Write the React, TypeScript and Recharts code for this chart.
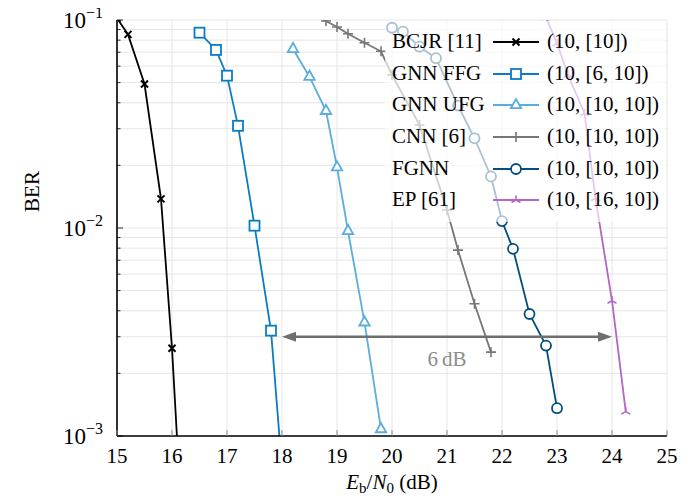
import React from 'react';
import { LineChart, Line, XAxis, YAxis, CartesianGrid, ReferenceLine } from 'recharts';

// axis ticks
const xTicks = [15, 16, 17, 18, 19, 20, 21, 22, 23, 24, 25];
const yTicks = [
  0.001, 0.002, 0.003, 0.004, 0.005, 0.006, 0.007, 0.008, 0.009,
  0.01, 0.02, 0.03, 0.04, 0.05, 0.06, 0.07, 0.08, 0.09, 0.1,
];
const yDecades = [0.001, 0.01, 0.1];

// BCJR [11]
const bcjrSnr = [15.0, 15.2, 15.5, 15.8, 16.0, 16.2];
const bcjrBer = [0.102, 0.0853, 0.0492, 0.0138, 0.00264, 0.0003];

// GNN FFG
const ffgSnr = [16.5, 16.8, 17.0, 17.2, 17.5, 17.8, 18.0];
const ffgBer = [0.0869, 0.0718, 0.054, 0.031, 0.01026, 0.00321, 0.0007];

// GNN UFG
const ufgSnr = [18.2, 18.5, 18.8, 19.0, 19.2, 19.5, 19.8];
const ufgBer = [0.0726, 0.0534, 0.0366, 0.0196, 0.00968, 0.00352, 0.00108];

// CNN [6]
const cnnSnr = [18.5, 18.8, 19.0, 19.2, 19.5, 19.8, 20.0, 20.5, 21.0, 21.2, 21.5, 21.8];
const cnnBer = [0.108, 0.0989, 0.0926, 0.0859, 0.0778, 0.0707, 0.0544, 0.0313, 0.0122, 0.00783, 0.00432, 0.00253];

// FGNN
const fgnnSnr = [20.0, 20.2, 20.5, 20.8, 21.2, 21.5, 21.8, 22.0, 22.2, 22.5, 22.8, 23.0];
const fgnnBer = [0.0918, 0.0879, 0.0744, 0.0655, 0.0388, 0.027, 0.0177, 0.0108, 0.00794, 0.00386, 0.00272, 0.00136];

// EP [61]
const epSnr = [22.8, 23.0, 23.2, 23.5, 23.7, 24.0, 24.25];
const epBer = [0.103, 0.0772, 0.0544, 0.0356, 0.0139, 0.00447, 0.00131];

// 6 dB gap annotation
const gapFrom = 18;
const gapTo = 24;
const gapBer = 0.003;

const FONT = 'Liberation Serif, Times New Roman, serif';

const toRows = (snr: number[], ber: number[]) => snr.map((s, i) => ({ snr: s, ber: ber[i] }));

type Shape = 'cross' | 'square' | 'triangle' | 'plus' | 'circle' | 'tri';

const series: { name: string; params: string; color: string; shape: Shape; data: any[] }[] = [
  { name: 'BCJR [11]', params: '(10, [10])', color: '#000000', shape: 'cross', data: toRows(bcjrSnr, bcjrBer) },
  { name: 'GNN FFG', params: '(10, [6, 10])', color: '#0a7cc4', shape: 'square', data: toRows(ffgSnr, ffgBer) },
  { name: 'GNN UFG', params: '(10, [10, 10])', color: '#5aaddd', shape: 'triangle', data: toRows(ufgSnr, ufgBer) },
  { name: 'CNN [6]', params: '(10, [10, 10])', color: '#777777', shape: 'plus', data: toRows(cnnSnr, cnnBer) },
  { name: 'FGNN', params: '(10, [10, 10])', color: '#054d7a', shape: 'circle', data: toRows(fgnnSnr, fgnnBer) },
  { name: 'EP [61]', params: '(10, [16, 10])', color: '#b267c4', shape: 'tri', data: toRows(epSnr, epBer) },
];

const Marker = ({ shape, cx, cy, color }: { shape: Shape; cx: number; cy: number; color: string }) => {
  if (cx == null || cy == null || isNaN(cy)) return <g />;
  switch (shape) {
    case 'cross':
      return (
        <path
          d={`M${cx - 3.5},${cy - 3.5}L${cx + 3.5},${cy + 3.5}M${cx - 3.5},${cy + 3.5}L${cx + 3.5},${cy - 3.5}`}
          stroke={color}
          strokeWidth={2}
        />
      );
    case 'square':
      return <rect x={cx - 5} y={cy - 5} width={10} height={10} fill="#fff" stroke={color} strokeWidth={1.8} />;
    case 'triangle':
      return (
        <polygon
          points={`${cx},${cy - 6} ${cx - 5.2},${cy + 3.2} ${cx + 5.2},${cy + 3.2}`}
          fill="#fff"
          stroke={color}
          strokeWidth={1.8}
        />
      );
    case 'plus':
      return (
        <path d={`M${cx - 5},${cy}L${cx + 5},${cy}M${cx},${cy - 5}L${cx},${cy + 5}`} stroke={color} strokeWidth={1.6} />
      );
    case 'circle':
      return <circle cx={cx} cy={cy} r={5} fill="#fff" stroke={color} strokeWidth={1.8} />;
    case 'tri':
      return (
        <path
          d={`M${cx},${cy}L${cx},${cy - 4.5}M${cx},${cy}L${cx - 4.5},${cy + 2.5}M${cx},${cy}L${cx + 4.5},${cy + 2.5}`}
          stroke={color}
          strokeWidth={1.6}
        />
      );
  }
  return <g />;
};

const LeftTick = (props: any) => {
  const { x, y, payload } = props;
  const v = payload.value;
  const major = yDecades.some((d) => Math.abs(d - v) < 1e-9);
  const exp = Math.round(Math.log10(v));
  return (
    <g>
      <line x1={x} x2={x + (major ? 6 : 3.5)} y1={y} y2={y} stroke="#000" strokeWidth={0.8} />
      {major && (
        <text x={x - 14} y={y + 8} textAnchor="end" fontFamily={FONT} fontSize={23} fill="#000">
          10
          <tspan dy={-10} fontSize={16}>
            {'\u2212' + Math.abs(exp)}
          </tspan>
        </text>
      )}
    </g>
  );
};

const RightTick = (props: any) => {
  const { x, y, payload } = props;
  const major = yDecades.some((d) => Math.abs(d - payload.value) < 1e-9);
  return <line x1={x} x2={x - (major ? 6 : 3.5)} y1={y} y2={y} stroke="#000" strokeWidth={0.8} />;
};

const BottomTick = (props: any) => {
  const { x, y, payload } = props;
  return (
    <g>
      <line x1={x} x2={x} y1={y} y2={y - 6} stroke="#888" strokeWidth={1} />
      <text x={x} y={y + 27} textAnchor="middle" fontFamily={FONT} fontSize={21} fill="#000">
        {payload.value}
      </text>
    </g>
  );
};

const TopTick = (props: any) => {
  const { x, y } = props;
  return <line x1={x} x2={x} y1={y} y2={y + 6} stroke="#888" strokeWidth={1} />;
};

const GapArrow = (props: any) => {
  const { x1, y1, x2 } = props;
  const c = '#6e6e6e';
  return (
    <g>
      <line x1={x1 + 10} x2={x2 - 10} y1={y1} y2={y1} stroke={c} strokeWidth={2.4} />
      <polygon points={`${x1},${y1} ${x1 + 14},${y1 - 5} ${x1 + 14},${y1 + 5}`} fill={c} />
      <polygon points={`${x2},${y1} ${x2 - 14},${y1 - 5} ${x2 - 14},${y1 + 5}`} fill={c} />
      <text x={(x1 + x2) / 2} y={y1 + 29} textAnchor="middle" fontFamily={FONT} fontSize={21} fill="#8c8c8c">
        6{'\u2009'}dB
      </text>
    </g>
  );
};

const LegendBox = () => (
  <div
    style={{
      position: 'absolute',
      left: 385,
      top: 21,
      width: 281,
      height: 201,
      background: 'rgba(255,255,255,0.66)',
      fontFamily: FONT,
      fontSize: 21,
      color: '#000',
      paddingTop: 5,
      boxSizing: 'border-box',
    }}
  >
    {series.map((s) => (
      <div key={s.name} style={{ position: 'relative', height: 31.7 }}>
        <span style={{ position: 'absolute', left: 7, top: 3, whiteSpace: 'nowrap' }}>{s.name}</span>
        <svg style={{ position: 'absolute', left: 108, top: 6 }} width={46} height={20}>
          <line x1={0} x2={46} y1={10} y2={10} stroke={s.color} strokeWidth={1.8} />
          <Marker shape={s.shape} cx={23} cy={10} color={s.color} />
        </svg>
        <span style={{ position: 'absolute', left: 162, top: 3, whiteSpace: 'nowrap' }}>{s.params}</span>
      </div>
    ))}
  </div>
);

const App: React.FC = () => {
  return (
    <div style={{ position: 'relative', width: 694, height: 504, margin: -8, background: '#fff', overflow: 'hidden' }}>
      <LineChart width={694} height={504} margin={{ top: 20, right: 27, left: 0, bottom: 38 }}>
        <CartesianGrid stroke="#e6e6e6" strokeWidth={1} />
        <XAxis
          type="number"
          dataKey="snr"
          domain={[15, 25]}
          ticks={xTicks}
          interval={0}
          allowDataOverflow
          height={30}
          axisLine={{ stroke: '#000', strokeWidth: 1.6 }}
          tickLine={false}
          tickSize={0}
          tickMargin={0}
          tick={<BottomTick />}
        />
        <XAxis
          xAxisId="top"
          orientation="top"
          type="number"
          dataKey="snr"
          domain={[15, 25]}
          ticks={xTicks}
          interval={0}
          allowDataOverflow
          height={0}
          axisLine={{ stroke: '#000', strokeWidth: 1.6 }}
          tickLine={false}
          tickSize={0}
          tickMargin={0}
          tick={<TopTick />}
        />
        <YAxis
          scale="log"
          type="number"
          dataKey="ber"
          domain={[0.001, 0.1]}
          ticks={yTicks}
          interval={0}
          allowDataOverflow
          width={117}
          axisLine={{ stroke: '#000', strokeWidth: 1.6 }}
          tickLine={false}
          tickSize={0}
          tickMargin={0}
          tick={<LeftTick />}
          label={
            <text x={28} y={222} transform="rotate(-90 28 222)" textAnchor="middle" fontFamily={FONT} fontSize={21} fill="#000" dominantBaseline="middle">
              BER
            </text>
          }
        />
        <YAxis
          yAxisId="right"
          orientation="right"
          scale="log"
          type="number"
          domain={[0.001, 0.1]}
          ticks={yTicks}
          interval={0}
          allowDataOverflow
          width={0}
          axisLine={{ stroke: '#000', strokeWidth: 1.6 }}
          tickLine={false}
          tickSize={0}
          tickMargin={0}
          tick={<RightTick />}
        />
        {series.map((s) => (
          <Line
            key={s.name}
            data={s.data}
            dataKey="ber"
            type="linear"
            stroke={s.color}
            strokeWidth={1.8}
            dot={(p: any) => <Marker key={`${s.name}-${p.index}`} shape={s.shape} cx={p.cx} cy={p.cy} color={s.color} />}
            activeDot={false}
            isAnimationActive={false}
          />
        ))}
        <ReferenceLine
          segment={[
            { x: gapFrom, y: gapBer },
            { x: gapTo, y: gapBer },
          ]}
          shape={<GapArrow />}
        />
      </LineChart>
      <LegendBox />
      <div
        style={{
          position: 'absolute',
          left: 0,
          width: 784,
          top: 470,
          height: 26,
          lineHeight: '24px',
          textAlign: 'center',
          fontFamily: FONT,
          fontSize: 21,
          whiteSpace: 'nowrap',
        }}
      >
        <i>E</i>
        <span style={{ fontSize: 15, position: 'relative', top: 4 }}>b</span>/<i>N</i>
        <span style={{ fontSize: 15, position: 'relative', top: 4 }}>0</span> (dB)
      </div>
    </div>
  );
};

export default App;
